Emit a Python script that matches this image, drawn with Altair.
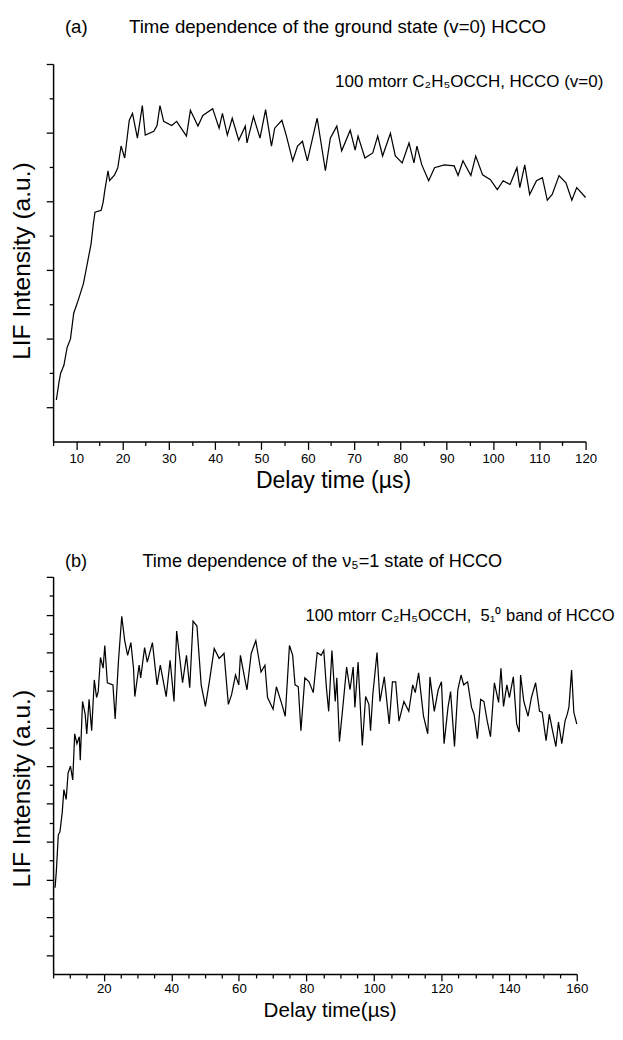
import altair as alt
import pandas as pd

FONT = "Liberation Sans"
NB = "\u00a0"

# ---------- Panel (a): ground state (v=0) HCCO ----------
a_time = [5.7, 6.27, 6.63, 7.33, 8.03, 8.75, 9.45, 10.5, 11.56, 12.26,
          13.2, 13.68, 14.04, 15.38, 15.8, 16.16, 16.86, 17.2, 18.28, 18.98,
          19.68, 20.46, 21.45, 22.15, 23.21, 24.27, 24.9, 26.75, 27.45, 28.08,
          28.87, 30.62, 31.68, 33.8, 34.65, 36.28, 37.34, 39.46, 40.85, 41.57,
          42.63, 43.69, 45.09, 46.51, 46.87, 48.27, 49.68, 50.89, 52.16, 52.86,
          54.41, 55.34, 56.74, 57.8, 58.85, 59.91, 62.03, 63.81, 64.87, 66.27,
          67.32, 69.17, 70.23, 70.86, 72.34, 74.04, 75.1, 76.16, 77.85, 78.91,
          80.39, 81.87, 82.93, 83.57, 84.63, 86.11, 87.38, 89.5, 91.62, 92.46,
          93.52, 95.22, 96.27, 97.76, 99.45, 100.93, 102.2, 103.69, 105.17, 105.8,
          106.86, 107.92, 109.4, 110.67, 111.73, 112.79, 114.27, 115.76, 117.03, 118.09,
          120.0]
a_lif = [1.21, 1.73, 1.99, 2.22, 2.74, 2.99, 3.74, 4.15, 4.61, 5.10,
         5.76, 6.33, 6.68, 6.74, 6.97, 7.31, 7.89, 7.60, 7.77, 7.98,
         8.61, 8.26, 9.36, 9.56, 8.84, 9.79, 8.93, 9.04, 9.21, 9.79,
         9.33, 9.21, 9.33, 8.90, 9.65, 9.19, 9.50, 9.70, 9.13, 9.56,
         8.93, 9.42, 8.78, 9.19, 8.70, 9.47, 8.84, 9.67, 8.61, 9.13,
         9.36, 8.93, 8.18, 8.61, 8.75, 8.18, 9.42, 7.89, 8.84, 9.19,
         8.47, 9.07, 8.49, 8.90, 8.26, 8.41, 8.90, 8.32, 8.98, 8.32,
         8.12, 8.70, 8.12, 8.61, 8.06, 7.60, 7.98, 8.06, 8.03, 7.75,
         8.18, 7.75, 8.32, 7.77, 7.63, 7.34, 7.60, 7.49, 7.98, 7.40,
         8.06, 7.20, 7.60, 7.69, 7.03, 7.20, 7.75, 7.54, 7.03, 7.40,
         7.11]

# ---------- Panel (b): nu5 = 1 state of HCCO ----------
b_time = [5.58, 5.96, 6.54, 7.03, 7.70, 8.19, 8.86, 9.44, 10.14, 10.81,
          11.39, 12.05, 12.75, 13.04, 13.71, 14.49, 14.96, 15.65, 16.41, 17.19,
          17.86, 18.35, 19.02, 19.80, 20.30, 21.05, 22.71, 23.37, 24.36, 25.32,
          26.19, 27.06, 28.02, 28.80, 29.18, 30.46, 30.92, 32.08, 32.87, 34.40,
          35.77, 36.73, 38.47, 39.63, 40.79, 41.57, 43.32, 44.48, 45.44, 46.42,
          47.58, 48.83, 50.08, 51.24, 52.69, 54.14, 55.60, 56.87, 57.83, 58.99,
          59.95, 60.44, 61.69, 62.39, 63.64, 65.00, 66.54, 67.70, 68.48, 70.11,
          71.09, 72.72, 73.71, 74.96, 75.91, 76.61, 77.57, 78.35, 79.51, 80.76,
          82.01, 83.17, 84.33, 85.12, 85.90, 86.57, 87.53, 88.51, 88.98, 89.76,
          90.92, 91.88, 92.87, 93.82, 94.32, 95.28, 96.52, 97.51, 98.47, 98.96,
          99.63, 100.88, 101.75, 103.03, 104.48, 105.44, 106.40, 107.38, 108.83, 110.28,
          111.44, 112.20, 113.19, 114.64, 115.89, 116.55, 117.83, 118.99, 119.95, 120.73,
          121.89, 122.65, 123.81, 124.80, 125.75, 126.54, 127.70, 128.86, 129.61, 130.60,
          131.56, 132.52, 133.50, 134.46, 135.62, 136.87, 137.56, 138.32, 139.31, 140.06,
          141.22, 142.21, 142.97, 143.37, 144.33, 145.58, 146.57, 147.82, 148.98, 149.76,
          150.92, 151.88, 152.84, 153.83, 154.58, 155.57, 156.53, 157.19, 157.68, 158.47,
          159.13, 160.0]
b_lif = [4.56, 5.44, 7.36, 7.52, 8.55, 9.75, 9.23, 10.63, 10.99, 10.26,
         12.70, 12.18, 12.55, 11.30, 14.41, 13.74, 12.70, 14.52, 12.86, 15.55,
         14.62, 14.93, 16.74, 16.17, 17.37, 15.40, 15.29, 13.48, 16.59, 18.92,
         17.63, 16.85, 17.52, 16.17, 14.67, 16.33, 15.66, 17.26, 16.49, 17.52,
         15.29, 16.33, 14.67, 16.59, 14.41, 18.14, 15.40, 16.85, 15.14, 18.66,
         18.40, 15.29, 14.15, 15.45, 17.21, 16.69, 16.95, 14.26, 14.77, 15.81,
         15.29, 16.85, 15.66, 15.03, 16.95, 17.63, 15.97, 16.33, 14.62, 14.00,
         15.19, 14.26, 13.63, 17.37, 16.85, 15.29, 15.19, 12.86, 15.66, 15.45,
         14.88, 17.00, 16.85, 17.11, 15.14, 13.89, 17.11, 14.41, 15.66, 12.29,
         14.41, 16.23, 15.03, 16.23, 14.10, 16.49, 12.08, 14.67, 14.26, 12.86,
         14.77, 17.00, 14.41, 15.71, 13.22, 15.45, 15.45, 13.37, 14.41, 13.89,
         15.29, 14.88, 15.92, 13.63, 12.70, 15.71, 13.89, 15.03, 15.45, 12.18,
         14.10, 14.93, 12.03, 15.03, 15.81, 15.29, 15.45, 14.10, 13.74, 12.44,
         14.52, 14.41, 13.37, 12.55, 15.40, 14.36, 16.17, 14.15, 15.29, 14.62,
         15.71, 13.22, 12.80, 15.81, 14.41, 13.63, 14.62, 15.40, 13.89, 13.84,
         12.34, 13.74, 12.86, 12.03, 13.32, 12.18, 13.37, 13.74, 14.10, 16.07,
         13.84, 13.22]

# ---------- ticks ----------
a_x_major = list(range(10, 121, 10))
a_x_minor = list(range(5, 120, 10))
a_y_major = [1, 3, 5, 7, 9, 11]
a_y_minor = [2, 4, 6, 8, 10]
b_x_major = list(range(20, 161, 20))
b_x_minor = [v for v in range(5, 160, 5) if v % 20 != 0]
b_y_major = list(range(1, 22, 2))
b_y_minor = list(range(2, 21, 2))

# ---------- texts ----------
a_title = "(a)" + NB * 8 + "Time dependence of the ground state (v=0) HCCO"
b_title = "(b)" + NB * 11 + "Time dependence of the \u03bd\u2085=1 state of HCCO"
a_note = "100 mtorr C\u2082H\u2085OCCH, HCCO (v=0)"
b_note = "100 mtorr C\u2082H\u2085OCCH," + NB + " 5\u2081\u2070 band of HCCO"
a_xtitle = "Delay time (\u00b5s)"
b_xtitle = "Delay time(\u00b5s)"
ytitle = "LIF Intensity (a.u.)"


def panel(time, lif, xdom, ydom, w, h, xmaj, xmin, ymaj, ymin, xtitle, xtitle_size,
          xtick, xlabpad, xtitlepad, title_text, title_size, title_dx, title_offset,
          note, note_size, note_x, note_y, xtitle_dx, ytitle_dy):
    df = pd.DataFrame({"t": time, "v": lif})
    xs = alt.Scale(domain=xdom, nice=False, zero=False)
    ys = alt.Scale(domain=ydom, nice=False, zero=False)
    line = alt.Chart(df).mark_line(color="black", strokeWidth=1.25).encode(
        x=alt.X("t:Q", scale=xs, axis=alt.Axis(
            orient="bottom", values=xmaj, tickSize=xtick, tickColor="black", tickWidth=1.3,
            domainColor="black", domainWidth=1.5, grid=False,
            labelFont=FONT, labelFontSize=13.5, labelColor="black", labelPadding=xlabpad,
            labelFlush=False, labelOverlap=False,
            title=xtitle, titleFont=FONT, titleFontSize=xtitle_size, titleFontWeight="normal",
            titleColor="black", titlePadding=xtitlepad, titleX=w / 2 + xtitle_dx)),
        y=alt.Y("v:Q", scale=ys, axis=alt.Axis(
            orient="left", values=ymaj, tickSize=7, tickColor="black", tickWidth=1.3,
            domainColor="black", domainWidth=1.5, grid=False, labels=False,
            title=ytitle, titleFont=FONT, titleFontSize=25, titleFontWeight="normal",
            titleColor="black", titlePadding=11, titleY=h / 2 + ytitle_dy)),
    )
    note_df = pd.DataFrame({"label": [note]})
    text = alt.Chart(note_df).mark_text(
        align="left", baseline="middle", font=FONT, fontSize=note_size, color="black"
    ).encode(
        text="label:N",
        x=alt.XDatum(note_x, type="quantitative", scale=xs, axis=alt.Axis(
            orient="bottom", values=xmin, tickSize=4, tickColor="black", tickWidth=1.3,
            labels=False, domain=False, grid=False, title="")),
        y=alt.YDatum(note_y, type="quantitative", scale=ys, axis=alt.Axis(
            orient="left", values=ymin, tickSize=4, tickColor="black", tickWidth=1.3,
            labels=False, domain=False, grid=False, title="")),
    )
    return alt.layer(line, text).resolve_axis(x="independent", y="independent").properties(
        width=w, height=h,
        title=alt.TitleParams(text=title_text, anchor="start", frame="group", dx=title_dx,
                              offset=title_offset, font=FONT, fontSize=title_size,
                              fontWeight="normal", color="black"),
    )


top = panel(a_time, a_lif, [5, 120], [0, 11], 543, 385, a_x_major, a_x_minor,
            a_y_major, a_y_minor, a_xtitle, 23.5, 8, 2, 4, a_title, 19, 12, 27,
            a_note, 17.3, 65.9, 10.46, 14, 8)
bottom = panel(b_time, b_lif, [5, 160], [0, 21], 534, 405, b_x_major, b_x_minor,
               b_y_major, b_y_minor, b_xtitle, 21, 7, 1, 5, b_title, 18.5, 12, 6,
               b_note, 16.9, 79.7, 18.9, 15, 13)

chart = alt.vconcat(top, bottom, spacing=61).properties(
    padding={"left": 2, "top": 0, "right": 0, "bottom": 0}
).configure(font=FONT).configure_view(stroke="transparent", strokeWidth=0)

chart.save("out.html", embed_options={"renderer": "svg", "actions": False})
